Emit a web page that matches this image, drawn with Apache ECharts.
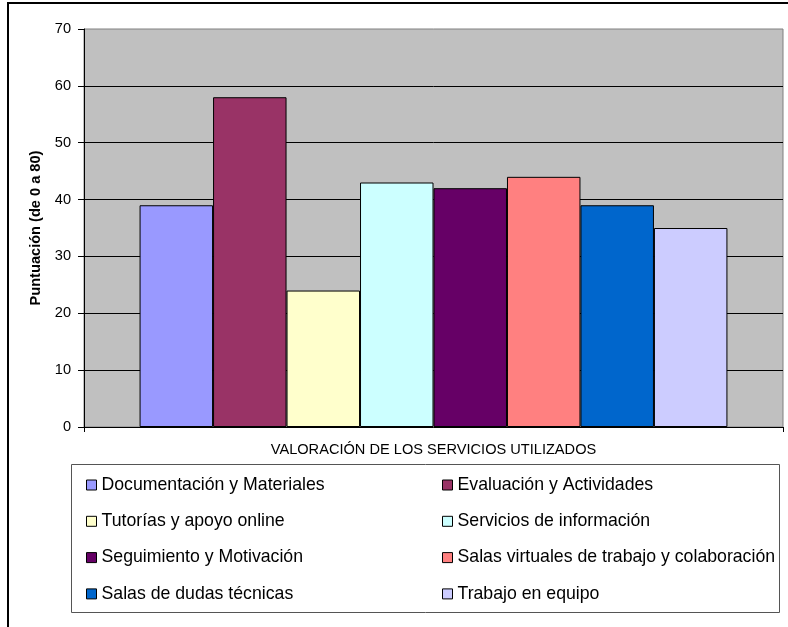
<!DOCTYPE html>
<html>
<head>
<meta charset="utf-8">
<script src="https://cdn.jsdelivr.net/npm/echarts@6/dist/echarts.min.js"></script>
<style>html,body{margin:0;padding:0;background:#fff;}#chart{width:788px;height:627px;}</style>
</head>
<body>
<div id="chart"></div>
<script>
const seriesNames = [
  'Documentación y Materiales',
  'Evaluación y Actividades',
  'Tutorías y apoyo online',
  'Servicios de información',
  'Seguimiento y Motivación',
  'Salas virtuales de trabajo y colaboración',
  'Salas de dudas técnicas',
  'Trabajo en equipo'
];
const seriesValues = [39, 58, 24, 43, 42, 44, 39, 35];
const seriesColors = ['#9999FF', '#993366', '#FFFFCC', '#CCFFFF', '#660066', '#FF8080', '#0066CC', '#CCCCFF'];
const categories = [''];
const xAxisTitle = 'VALORACIÓN DE LOS SERVICIOS UTILIZADOS';
const yAxisTitle = 'Puntuación (de 0 a 80)';
const yMin = 0, yMax = 70, yStep = 10;

const FONT = "'Liberation Sans', Arial, sans-serif";
const chart = echarts.init(document.getElementById('chart'), null, {renderer: 'canvas'});

const series = seriesNames.map((name, i) => ({
  name: name,
  type: 'bar',
  data: [seriesValues[i]],
  barGap: '0%',
  barCategoryGap: '15.9%',
  itemStyle: {color: seriesColors[i], borderColor: '#000', borderWidth: 1},
  emphasis: {disabled: true},
  animation: false
}));

const legendText = {fontFamily: FONT, fontSize: 17.7, lineHeight: 18, color: '#000'};
const legendBase = {
  orient: 'vertical', top: 471, icon: 'rect', itemWidth: 10, itemHeight: 10,
  itemGap: 18.3, textStyle: legendText, selectedMode: false,
  itemStyle: {borderColor: '#000', borderWidth: 1}
};

chart.setOption({
  backgroundColor: '#fff',
  animation: false,
  grid: {left: 84, right: 5, top: 29, bottom: 200, show: true, backgroundColor: '#C0C0C0', borderColor: '#808080', borderWidth: 1},
  xAxis: {
    type: 'category', data: categories,
    name: xAxisTitle, nameLocation: 'middle', nameGap: 15,
    nameTextStyle: {fontFamily: FONT, fontSize: 14.6, color: '#000'},
    axisLine: {lineStyle: {color: '#000', width: 1}},
    axisTick: {show: true, length: 5, lineStyle: {color: '#000'}},
    axisLabel: {show: false}
  },
  yAxis: {
    type: 'value', min: yMin, max: yMax, interval: yStep,
    name: yAxisTitle, nameLocation: 'middle', nameGap: 40, nameRotate: 90,
    nameTextStyle: {fontFamily: FONT, fontSize: 14.6, fontWeight: 'bold', color: '#000'},
    axisLine: {show: true, lineStyle: {color: '#000', width: 1}},
    axisTick: {show: true, length: 6, lineStyle: {color: '#000'}},
    axisLabel: {fontFamily: FONT, fontSize: 14.6, color: '#000', margin: 13},
    splitLine: {show: true, showMinLine: false, showMaxLine: false, lineStyle: {color: '#000', width: 1}}
  },
  legend: [
    Object.assign({}, legendBase, {left: 81, data: [seriesNames[0], seriesNames[2], seriesNames[4], seriesNames[6]]}),
    Object.assign({}, legendBase, {left: 437, data: [seriesNames[1], seriesNames[3], seriesNames[5], seriesNames[7]]})
  ],
  graphic: [
    {type: 'rect', shape: {x: 71.5, y: 464.5, width: 708, height: 148}, style: {fill: null, stroke: '#555', lineWidth: 1}, z: -1},
    {type: 'polyline', shape: {points: [[8, 700], [8, 3], [800, 3]]}, style: {fill: null, stroke: '#000', lineWidth: 2}}
  ],
  series: series
});
</script>
</body>
</html>
